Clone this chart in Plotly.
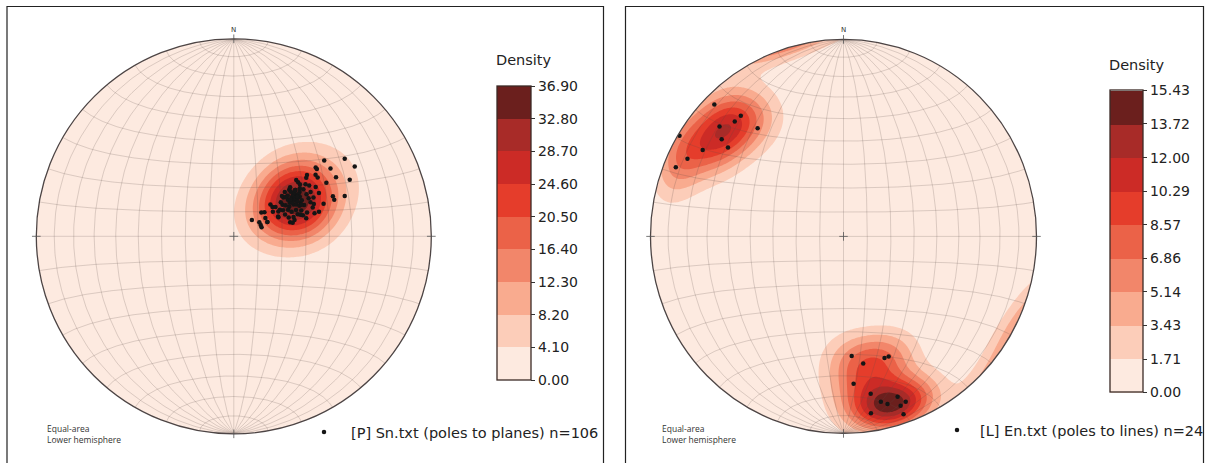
import numpy as np
import plotly.graph_objects as go

# ---------------- data ----------------
# Left net: poles to planes (trend, plunge in degrees), n = 106
left_trend = [50, 55, 60, 50, 51, 55, 60, 53, 55, 60, 64, 59, 63, 70, 68, 70, 70, 74, 68, 48,
              50, 50, 52, 56, 56, 59, 63, 56, 52, 54, 56, 60, 66, 70, 74, 69, 73, 76, 62, 67,
              71, 62, 67, 71, 49, 53, 58, 66, 67, 76, 77, 52, 60, 67, 49, 48, 67, 72, 49, 60,
              64, 50, 51, 56, 53, 61, 62, 64, 72, 75, 72, 61, 57, 67, 61, 59, 57, 59, 53, 52,
              55, 58, 63, 59, 65, 62, 67, 49, 54, 66, 59, 54, 59, 60, 50, 63, 55, 72, 54, 53,
              53, 65, 57, 56, 60, 58]
left_plunge = [40, 32, 30, 45, 45, 40, 40, 47, 47, 45, 35, 50, 50, 40, 45, 45, 50, 53, 54, 55,
               55, 60, 60, 61, 59, 59, 59, 63, 64, 66, 55, 55, 55, 55, 55, 60, 60, 59, 62, 62,
               62, 67, 67, 66, 70, 70, 71, 70, 70, 66, 65, 74, 75, 75, 75, 80, 78, 78, 59, 53,
               53, 50, 51, 57, 63, 60, 64, 65, 64, 64, 58, 69, 66, 75, 78, 61, 58, 58, 58, 55,
               60, 60, 61, 63, 60, 58, 64, 62, 56, 58, 65, 59, 59, 62, 64, 55, 69, 61, 53, 62,
               58, 59, 62, 52, 68, 59]

# Right net: lines (trend, plunge in degrees), n = 24
right_trend = [315, 319, 316, 311, 321, 301, 307, 301, 296, 292, 308,
               176, 171, 161, 159, 176, 170, 161, 159, 161, 171, 161, 167, 165]
right_plunge = [6, 20, 20, 16, 30, 1, 26, 16, 11, 7, 21,
                39, 35, 35, 35, 26, 20, 15, 11, 10, 10, 5, 15, 13]

left_ticks = [0.00, 4.10, 8.20, 12.30, 16.40, 20.50, 24.60, 28.70, 32.80, 36.90]
right_ticks = [0.00, 1.71, 3.43, 5.14, 6.86, 8.57, 10.29, 12.00, 13.72, 15.43]

left_label = "[P] Sn.txt (poles to planes) n=106"
right_label = "[L] En.txt (poles to lines) n=24"

band_colors = ['#fdeae0', '#fccdb9', '#f9ab8f', '#f2866a', '#eb6248',
               '#e53d2b', '#cc2b26', '#a82b28', '#6b1f1d']

# ---------------- helpers ----------------
W, H = 1209, 463


def px(x):
    return x / W


def py(y):
    return 1 - y / H


def sph(trend, plunge):
    t = np.radians(np.asarray(trend, float))
    p = np.radians(np.asarray(plunge, float))
    return np.cos(p) * np.sin(t), np.cos(p) * np.cos(t), np.sin(p)


def proj(x, y, z):
    s = np.sqrt(1 + z)
    return x / s, y / s


def density_grid(trend, plunge, kappa, top, n=211, lim=1.03):
    g = np.linspace(-lim, lim, n)
    X, Y = np.meshgrid(g, g)
    r2 = X ** 2 + Y ** 2
    f = np.where(r2 > 1, 1 / np.sqrt(np.maximum(r2, 1e-12)), 1.0)
    Xc, Yc = X * f, Y * f
    z = 1 - np.minimum(r2, 1.0)
    h = np.sqrt(1 + z)
    gx, gy = Xc * h, Yc * h
    vx, vy, vz = sph(trend, plunge)
    c = np.abs(gx[..., None] * vx + gy[..., None] * vy + z[..., None] * vz)
    D = np.exp(kappa * (c - 1)).sum(axis=-1)
    D = D / D.max() * top * 0.999
    return g, D


def net_lines(step=10):
    xs, ys = [], []
    a = np.radians(np.linspace(-90, 90, 181))
    for lam in range(-90 + step, 90, step):
        l = np.radians(lam)
        X, Y = proj(np.cos(a) * np.sin(l), np.sin(a), np.cos(a) * np.cos(l))
        xs += list(X) + [None]
        ys += list(Y) + [None]
    for phi in range(-90 + step, 90, step):
        p = np.radians(phi)
        X, Y = proj(np.cos(p) * np.sin(a), np.full_like(a, np.sin(p)), np.cos(p) * np.cos(a))
        xs += list(X) + [None]
        ys += list(Y) + [None]
    return xs, ys


def contour_scale(colors):
    # band above level L takes the colour at L + size/2 on [start - size/2, end + size/2]
    seq = [colors[0]] + list(colors) + [colors[-1]]
    cs = []
    for i, c in enumerate(seq):
        lo = round(max(0.0, i / 10 - 0.05), 6)
        hi = round(min(1.0, i / 10 + 0.05), 6)
        cs += [[lo, c], [hi, c]]
    return cs


def bar_scale(colors):
    n = len(colors)
    cs = []
    for j, c in enumerate(colors):
        cs += [[round(j / n, 6), c], [round((j + 1) / n, 6), c]]
    return cs


def mask_path(lim=1.12, n=240):
    s = f"M{-lim},{-lim} L{lim},{-lim} L{lim},{lim} L{-lim},{lim} Z "
    t = np.linspace(0, 2 * np.pi, n, endpoint=False)
    pts = [(np.cos(-a), np.sin(-a)) for a in t]
    s += "M" + " L".join(f"{x:.5f},{y:.5f}" for x, y in pts) + " Z"
    return s


# ---------------- panel geometry (pixels) ----------------
LIM = 1.1
panels = [
    dict(cx=233.8, cy=236.3, rx=197.5, ry=197.5, xa='x', ya='y', trend=left_trend,
         plunge=left_plunge, ticks=left_ticks, kappa=36, label=left_label, legend='legend',
         cb_x=497, cb_top=86.5, cb_bot=380, cb_th=34, dens=(524, 60.5),
         ea=(45, 428), border=(7, 603.5)),
    dict(cx=843.5, cy=236.4, rx=193, ry=197, xa='x2', ya='y2', trend=right_trend,
         plunge=right_plunge, ticks=right_ticks, kappa=45, label=right_label, legend='legend2',
         cb_x=1110, cb_top=90.5, cb_bot=392.5, cb_th=33, dens=(1136.5, 65),
         ea=(660, 428), border=(625.5, 1203.5)),
]

fig = go.Figure()
shapes = []
annotations = []
layout_axes = {}

for i, P in enumerate(panels):
    top = P['ticks'][-1]
    g, D = density_grid(P['trend'], P['plunge'], P['kappa'], top)
    fig.add_trace(go.Contour(
        x=g, y=g, z=D, xaxis=P['xa'], yaxis=P['ya'],
        autocontour=False,
        contours=dict(start=0, end=top, size=top / 9, coloring='fill', showlines=False),
        line=dict(width=0),
        colorscale=contour_scale(band_colors), showscale=False,
        hoverinfo='skip', showlegend=False,
    ))
    gx, gy = net_lines(10)
    fig.add_trace(go.Scatter(x=gx, y=gy, xaxis=P['xa'], yaxis=P['ya'], mode='lines',
                             line=dict(color='rgba(90,75,70,0.30)', width=0.7),
                             hoverinfo='skip', showlegend=False))
    X, Y = proj(*sph(P['trend'], P['plunge']))
    fig.add_trace(go.Scatter(x=X, y=Y, xaxis=P['xa'], yaxis=P['ya'], mode='markers',
                             marker=dict(size=4.5, color='#151515'),
                             name=P['label'], legend=P['legend'], showlegend=True,
                             hoverinfo='skip'))
    fig.add_trace(go.Scatter(
        x=[None, None], y=[None, None], xaxis=P['xa'], yaxis=P['ya'], mode='markers',
        showlegend=False, hoverinfo='skip',
        marker=dict(color=[0, top], cmin=0, cmax=top, colorscale=bar_scale(band_colors),
                    showscale=True,
                    colorbar=dict(
                        x=px(P['cb_x']), xanchor='left', xpad=0,
                        y=py((P['cb_top'] + P['cb_bot']) / 2), yanchor='middle', ypad=0,
                        len=(P['cb_bot'] - P['cb_top']) / H, lenmode='fraction',
                        thickness=P['cb_th'], thicknessmode='pixels',
                        outlinecolor='#3b2a26', outlinewidth=1.3, borderwidth=0,
                        tickmode='array', tickvals=P['ticks'],
                        ticktext=[f"{v:.2f}" for v in P['ticks']],
                        ticks='outside', ticklen=4, tickcolor='#333',
                        tickfont=dict(family='DejaVu Sans', size=14, color='#222'),
                    )),
    ))

    hw = LIM * P['rx']
    hh = LIM * P['ry']
    suffix = '' if i == 0 else '2'
    layout_axes['xaxis' + suffix] = dict(domain=[px(P['cx'] - hw), px(P['cx'] + hw)],
                                         range=[-LIM, LIM], visible=False, fixedrange=True,
                                         anchor=P['ya'])
    layout_axes['yaxis' + suffix] = dict(domain=[py(P['cy'] + hh), py(P['cy'] - hh)],
                                         range=[-LIM, LIM], visible=False, fixedrange=True,
                                         anchor=P['xa'])

    xr, yr = P['xa'], P['ya']
    shapes.append(dict(type='path', path=mask_path(), xref=xr, yref=yr, fillcolor='white',
                       line=dict(width=0), layer='above', fillrule='evenodd'))
    shapes.append(dict(type='circle', x0=-1, y0=-1, x1=1, y1=1, xref=xr, yref=yr,
                       line=dict(color='#4d4545', width=1.3), layer='above'))
    tk = 0.022
    for (x0, y0, x1, y1) in [(-tk, 0, tk, 0), (0, -tk, 0, tk),
                             (-1 - tk, 0, -1 + tk, 0), (1 - tk, 0, 1 + tk, 0),
                             (0, -1 - tk, 0, -1 + tk), (0, 1 - tk, 0, 1 + tk)]:
        shapes.append(dict(type='line', x0=x0, y0=y0, x1=x1, y1=y1, xref=xr, yref=yr,
                           line=dict(color='#555', width=0.8), layer='above'))
    bx0, bx1 = P['border']
    shapes.append(dict(type='rect', xref='paper', yref='paper', x0=px(bx0), x1=px(bx1),
                       y0=-0.02, y1=py(6.5), line=dict(color='#222', width=1.2),
                       fillcolor='rgba(0,0,0,0)', layer='above'))

    annotations.append(dict(text='N', x=0, y=1, xref=xr, yref=yr, yanchor='bottom',
                            yshift=3, showarrow=False,
                            font=dict(family='DejaVu Sans', size=7, color='#333')))
    annotations.append(dict(text='Density', x=px(P['dens'][0]), y=py(P['dens'][1]),
                            xref='paper', yref='paper', xanchor='center', yanchor='middle',
                            showarrow=False,
                            font=dict(family='DejaVu Sans', size=14.5, color='#222')))
    annotations.append(dict(text='Equal-area', x=px(P['ea'][0]), y=py(P['ea'][1]),
                            xref='paper', yref='paper', xanchor='left', yanchor='middle',
                            showarrow=False,
                            font=dict(family='Open Sans', size=8.5, color='#333')))
    annotations.append(dict(text='Lower hemisphere', x=px(P['ea'][0]), y=py(P['ea'][1] + 11),
                            xref='paper', yref='paper', xanchor='left', yanchor='middle',
                            showarrow=False,
                            font=dict(family='Open Sans', size=8.5, color='#333')))

legend_font = dict(family='DejaVu Sans', size=14.5, color='#222')
fig.update_layout(
    width=W, height=H, margin=dict(l=0, r=0, t=0, b=0),
    paper_bgcolor='white', plot_bgcolor='white',
    shapes=shapes, annotations=annotations,
    legend=dict(x=px(297), xanchor='left', y=py(432), yanchor='middle', itemwidth=44,
                bgcolor='rgba(0,0,0,0)', font=legend_font, borderwidth=0),
    legend2=dict(x=px(934), xanchor='left', y=py(430), yanchor='middle', itemwidth=36,
                 bgcolor='rgba(0,0,0,0)', font=legend_font, borderwidth=0),
    **layout_axes,
)

fig.write_html("out.html", config={'displayModeBar': False},
               post_script="document.body.style.margin='0';")
